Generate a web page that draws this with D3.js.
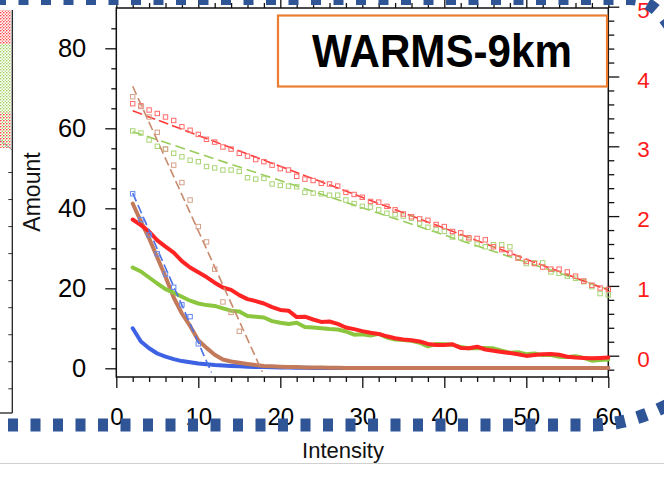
<!DOCTYPE html>
<html><head><meta charset="utf-8">
<script src="https://cdn.jsdelivr.net/npm/d3@7"></script>
<style>html,body{margin:0;padding:0;background:#fff;overflow:hidden}</style>
</head><body>
<svg id="c" width="664" height="478"></svg>
<script>
// ---------------- DATA ----------------
const intensity = [2,3,4,5,6,7,8,9,10,11,12,13,14,15,16,17,18,19,20,21,22,23,24,25,26,27,28,29,30,31,32,33,34,35,36,37,38,39,40,41,42,43,44,45,46,47,48,49,50,51,52,53,54,55,56,57,58,59,60];
// Amount (left axis), solid lines
const redAmount = [37.2,35.8,34.2,32.0,30.4,28.9,26.8,25.2,24.0,22.8,21.4,20.2,19.6,18.3,17.3,16.8,16.2,15.3,14.6,14.4,12.8,12.9,12.2,11.6,11.7,11.1,10.2,9.8,9.3,8.9,8.6,8.0,7.5,7.2,7.0,6.7,6.1,5.8,5.8,6.0,5.1,5.0,5.4,4.7,4.4,4.1,3.8,3.5,3.1,3.3,3.5,3.6,3.4,2.9,2.7,2.6,2.5,2.6,2.7];
const greenAmount = [25.2,24.2,22.7,21.2,19.8,18.9,17.9,16.9,16.2,15.8,15.6,15.0,14.4,14.2,13.1,12.9,12.7,11.8,11.4,11.1,11.4,10.3,10.2,10.0,9.8,9.7,9.2,8.4,8.5,8.2,8.6,7.7,7.2,7.1,6.9,6.4,5.5,6.1,6.0,5.9,5.3,5.0,5.0,5.1,5.0,4.4,3.9,4.0,3.5,3.7,3.3,3.3,2.9,2.8,3.0,2.6,1.9,2.1,2.2];
const blueAmount = [10.0,6.7,5.0,3.7,2.9,2.3,1.8,1.5,1.2,1.0,0.8,0.7,0.6,0.5,0.4,0.35,0.3,0.25,0.2,0.2,0.15,0.15,0.1,0.1,0.1,0.1,0.1,0.1,0.05,0.05,0.05,0.05,0.05,0.05,0.05,0.05,0.05,0.05,0.05,0.05,0.05,0.05,0.05,0.05,0.05,0.05,0.05,0.05,0.05,0.05,0.05,0.05,0.05,0.05,0.05,0.05,0.05,0.05,0.05];
const brownAmount = [41.2,36.7,32.5,27.7,22.9,17.7,13.7,10.6,7.0,5.1,3.4,2.2,1.7,1.4,1.1,0.8,0.6,0.5,0.4,0.3,0.3,0.2,0.2,0.2,0.15,0.15,0.1,0.1,0.1,0.1,0.1,0.1,0.05,0.05,0.05,0.05,0.05,0.05,0.05,0.05,0.05,0.05,0.05,0.05,0.05,0.05,0.05,0.05,0.05,0.05,0.05,0.05,0.05,0.05,0.05,0.05,0.05,0.05,0.05];
// log values (right axis), square markers
const redLog = [3.61,3.58,3.52,3.47,3.42,3.37,3.28,3.23,3.17,3.10,3.06,2.99,2.96,2.90,2.86,2.81,2.78,2.73,2.68,2.66,2.57,2.53,2.51,2.47,2.46,2.43,2.34,2.31,2.27,2.21,2.20,2.14,2.09,2.03,1.99,1.96,1.94,1.88,1.85,1.78,1.76,1.69,1.68,1.66,1.56,1.52,1.47,1.40,1.35,1.32,1.27,1.24,1.24,1.20,1.14,1.07,1.01,0.97,0.95];
const greenLog = [3.22,3.19,3.09,3.00,2.96,2.90,2.85,2.80,2.78,2.71,2.69,2.66,2.66,2.64,2.55,2.53,2.54,2.46,2.44,2.43,2.42,2.34,2.33,2.32,2.30,2.30,2.23,2.18,2.14,2.13,2.09,2.04,2.02,2.00,1.97,1.90,1.84,1.81,1.78,1.70,1.69,1.67,1.60,1.56,1.59,1.59,1.56,1.40,1.32,1.33,1.33,1.20,1.18,1.14,1.11,1.06,0.99,0.89,0.87];
const brownLogX = [2,3,4,5,6,7,8,9,10,11,12,13,14,15];
const brownLog = [3.71,3.57,3.42,3.20,2.96,2.73,2.48,2.23,1.85,1.63,1.24,0.77,0.62,0.35];
const blueLogX = [2,3,4,5,6,7,8,9,10];
const blueLog = [2.32,1.95,1.73,1.46,1.17,0.98,0.73,0.56,0.17];
// fitted lines (right axis) : [x, value] end points
const redFit = [[2,3.51],[60,0.94]];
const greenFit = [[2,3.21],[60,0.95]];
const brownFit = [[2,3.86],[17.8,-0.23]];
const blueFit = [[2,2.33],[11.6,-0.24]];
// ticks
const xMajor = [0,10,20,30,40,50,60];
const yLeftMajor = [0,20,40,60,80];
const yRightMajor = [0,1,2,3,4,5];
const titleText = "WARMS-9km";

// ---------------- LAYOUT ----------------
const svg = d3.select("#c");
const FONT = "'Liberation Sans', Arial, Helvetica, sans-serif";
const L = 116.3, R = 608.3, T = 8, B = 377;
const x = d3.scaleLinear().domain([0,60]).range([L, R]);
const yL = d3.scaleLinear().domain([0,80]).range([368.3, 48.3]);
const yR = d3.scaleLinear().domain([0,5]).range([355.7, 6.7]);

// neighbour chart fragment (left edge)
const defs = svg.append("defs");
function dotPattern(id, cols){
  const p = defs.append("pattern").attr("id", id).attr("width", 3).attr("height", 3).attr("patternUnits","userSpaceOnUse");
  p.append("circle").attr("cx",0.8).attr("cy",0.8).attr("r",0.8).attr("fill",cols[0]);
  p.append("circle").attr("cx",2.3).attr("cy",2.3).attr("r",0.7).attr("fill",cols[1]);
}
dotPattern("pr", ["#ff2020","#ff5050"]);
dotPattern("pg", ["#8cc63f","#a8d46a"]);
dotPattern("pm", ["#ff2020","#8cc63f"]);
svg.append("rect").attr("x",0).attr("y",10).attr("width",11).attr("height",34).attr("fill","url(#pr)");
svg.append("rect").attr("x",0).attr("y",44).attr("width",11).attr("height",68).attr("fill","url(#pg)");
svg.append("rect").attr("x",0).attr("y",112).attr("width",11).attr("height",36).attr("fill","url(#pm)");
svg.append("line").attr("x1",0).attr("y1",140).attr("x2",12).attr("y2",150).attr("stroke","#888").attr("stroke-width",0.8);
const nScale = d3.scaleLinear().domain([0,8]).range([388.3,172]);
const nAx = svg.append("g").attr("transform","translate(12.3,0)")
  .call(d3.axisLeft(nScale).tickValues([0,1,2,3,4,5,6,7,8]).tickSize(4).tickFormat(""));
nAx.select(".domain").remove();
nAx.selectAll("line").attr("stroke","#333");
svg.append("line").attr("x1",12.3).attr("x2",12.3).attr("y1",10).attr("y2",413).attr("stroke","#222").attr("stroke-width",1.3);
svg.append("line").attr("x1",0).attr("x2",12.3).attr("y1",413).attr("y2",413).attr("stroke","#222").attr("stroke-width",1.3);

// gray separator
svg.append("line").attr("x1",0).attr("x2",664).attr("y1",463.5).attr("y2",463.5).attr("stroke","#d0d0d0").attr("stroke-width",1);

// ---------------- AXES ----------------
function styleAxis(g, fs, color){
  g.select(".domain").remove();
  g.selectAll(".tick line").attr("stroke","#111").attr("stroke-width",1.3);
  g.selectAll(".tick text").attr("font-family",FONT).attr("font-size",fs).attr("fill",color||"#000");
}
const minorX = [2,4,6,8,12,14,16,18,22,24,26,28,32,34,36,38,42,44,46,48,52,54,56,58];
const minorYL = [5,10,15,25,30,35,45,50,55,65,70,75,85];
const minorYR = [-0.2,0.2,0.4,0.6,0.8,1.2,1.4,1.6,1.8,2.2,2.4,2.6,2.8,3.2,3.4,3.6,3.8,4.2,4.4,4.6,4.8];

// bottom
styleAxis(svg.append("g").attr("transform",`translate(0,${B})`)
  .call(d3.axisBottom(x).tickValues(minorX).tickSize(5).tickFormat("")));
const gb = svg.append("g").attr("transform",`translate(0,${B})`)
  .call(d3.axisBottom(x).tickValues(xMajor).tickSize(11).tickPadding(20).tickFormat(d3.format("d")));
styleAxis(gb, 24);
// top
styleAxis(svg.append("g").attr("transform",`translate(0,${T})`)
  .call(d3.axisTop(x).tickValues(minorX).tickSize(5).tickFormat("")));
styleAxis(svg.append("g").attr("transform",`translate(0,${T})`)
  .call(d3.axisTop(x).tickValues(xMajor).tickSize(11).tickFormat("")));
// left
styleAxis(svg.append("g").attr("transform",`translate(${L},0)`)
  .call(d3.axisLeft(yL).tickValues(minorYL).tickSize(5).tickFormat("")));
const gl = svg.append("g").attr("transform",`translate(${L},0)`)
  .call(d3.axisLeft(yL).tickValues(yLeftMajor).tickSize(11).tickPadding(19).tickFormat(d3.format("d")));
styleAxis(gl, 25.5);
// right
styleAxis(svg.append("g").attr("transform",`translate(${R},0)`)
  .call(d3.axisRight(yR).tickValues(minorYR).tickSize(6).tickFormat("")));
const gr = svg.append("g").attr("transform",`translate(${R},0)`)
  .call(d3.axisRight(yR).tickValues(yRightMajor).tickSize(11).tickPadding(18).tickFormat(d3.format("d")));
styleAxis(gr, 22.5, "#ff1a1a");
gr.selectAll(".tick text").attr("dy","0.47em");

// frame
svg.append("rect").attr("x",L).attr("y",T).attr("width",R-L).attr("height",B-T)
  .attr("fill","none").attr("stroke","#111").attr("stroke-width",1.5);

// axis titles
svg.append("text").attr("transform","translate(40,192) rotate(-90)").attr("text-anchor","middle")
  .attr("font-family",FONT).attr("font-size",23).attr("fill","#111").text("Amount");
svg.append("text").attr("x",343).attr("y",458).attr("text-anchor","middle")
  .attr("font-family",FONT).attr("font-size",22).attr("fill","#111").text("Intensity");

// ---------------- SERIES ----------------
const plot = svg.append("g");
const lineL = d3.line().x((d,i)=>x(intensity[i])).y(d=>yL(d));
const solids = [
  {v: blueAmount, c:"#3d62e4"},
  {v: brownAmount, c:"#c27a5a"},
  {v: greenAmount, c:"#8cc63f"},
  {v: redAmount, c:"#ff2424"}
];
solids.forEach(s=>{
  plot.append("path").datum(s.v).attr("d",lineL).attr("fill","none")
    .attr("stroke",s.c).attr("stroke-width",4).attr("stroke-linejoin","round").attr("stroke-linecap","round");
});
const lineR = d3.line().x(d=>x(d[0])).y(d=>yR(d[1]));
const fits = [
  {d: greenFit, c:"#98cc5a", dash:"10,5"},
  {d: redFit, c:"#ff3a3a", dash:"10,4"},
  {d: brownFit, c:"#c9896c", dash:"9,4"},
  {d: blueFit, c:"#4a70e8", dash:"9,4"}
];
fits.forEach(f=>{
  plot.append("path").datum(f.d).attr("d",lineR).attr("fill","none")
    .attr("stroke",f.c).attr("stroke-width",1.6).attr("stroke-dasharray",f.dash);
});
const marks = [
  {xs: intensity, v: greenLog, c:"#a9d474"},
  {xs: intensity, v: redLog, c:"#ff6a6a"},
  {xs: brownLogX, v: brownLog, c:"#d6a088"},
  {xs: blueLogX, v: blueLog, c:"#6688ee"}
];
const S = 4.4;
marks.forEach(m=>{
  plot.append("g").selectAll("rect").data(m.v).join("rect")
    .attr("x",(d,i)=>x(m.xs[i])-S/2).attr("y",d=>yR(d)-S/2)
    .attr("width",S).attr("height",S).attr("fill","none")
    .attr("stroke",m.c).attr("stroke-width",1);
});

// title box
svg.append("rect").attr("x",278).attr("y",15.5).attr("width",329).attr("height",71)
  .attr("fill","#fff").attr("stroke","#ed7d31").attr("stroke-width",2.2);
svg.append("text").attr("x",312).attr("y",67).attr("font-family",FONT).attr("font-weight","bold")
  .attr("font-size",46).attr("textLength",260).attr("lengthAdjust","spacingAndGlyphs")
  .attr("fill","#000").text(titleText);

// blue dotted slide border
svg.append("path").attr("d","M -4,-1 L 630,-1 Q 655,-1 674,34").attr("fill","none")
  .attr("stroke","#2f5597").attr("stroke-width",12).attr("stroke-dasharray","10,12.5");
svg.append("path").attr("d","M 8,425 L 592,425 Q 636,425 684,396").attr("fill","none")
  .attr("stroke","#2f5597").attr("stroke-width",13).attr("stroke-dasharray","10,12.5");
</script>
</body></html>
